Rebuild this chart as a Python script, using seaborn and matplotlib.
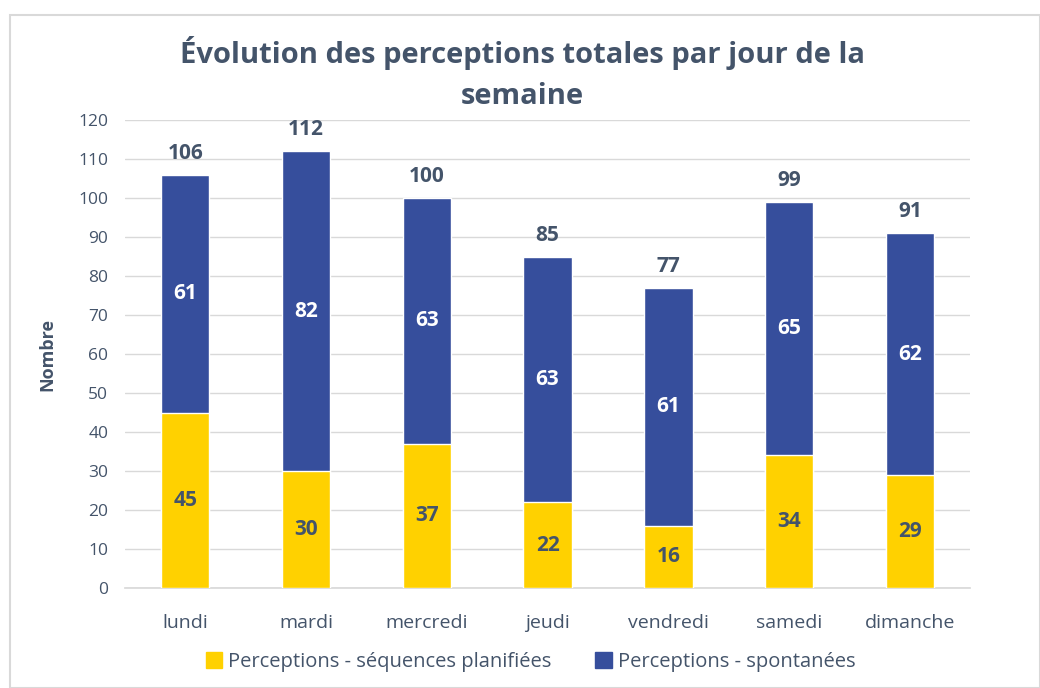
import matplotlib
matplotlib.use("Agg")
import matplotlib.pyplot as plt
import seaborn as sns
import pandas as pd
from matplotlib.patches import Rectangle, Patch

# data
jours = ["lundi", "mardi", "mercredi", "jeudi", "vendredi", "samedi", "dimanche"]
planifiees = [45, 30, 37, 22, 16, 34, 29]
spontanees = [61, 82, 63, 63, 61, 65, 62]
totaux = [p + s for p, s in zip(planifiees, spontanees)]

jaune = "#FFD100"
bleu = "#364E9C"
texte = "#44546A"

sns.set_theme(style="white")
plt.rcParams["font.family"] = ["Open Sans", "DejaVu Sans"]

df = pd.DataFrame({"jour": jours, "planifiees": planifiees, "total": totaux})

fig = plt.figure(figsize=(10.4, 6.88), dpi=100)
ax = fig.add_axes([0.120, 0.1453, 0.813, 0.6803])

# border of the chart area
fig.patches.append(Rectangle((10 / 1040, 0), 1 - 10 / 1040, 1 - 15 / 688,
                             transform=fig.transFigure, fill=False,
                             edgecolor="#D9D9D9", linewidth=1.5))

# total bar (blue) behind, yellow on top from 0
sns.barplot(data=df, x="jour", y="total", color=bleu, width=0.40,
            saturation=1, ax=ax, zorder=2)
sns.barplot(data=df, x="jour", y="planifiees", color=jaune, width=0.40,
            saturation=1, ax=ax, zorder=3)

for i in range(len(jours)):
    ax.text(i, planifiees[i] / 2, str(planifiees[i]), ha="center", va="center",
            fontsize=15, fontweight="bold", color=texte, zorder=4)
    ax.text(i, planifiees[i] + spontanees[i] / 2, str(spontanees[i]), ha="center",
            va="center", fontsize=15, fontweight="bold", color="white", zorder=4)
    ax.text(i, totaux[i] + 2.8, str(totaux[i]), ha="center", va="bottom",
            fontsize=15, fontweight="bold", color=texte, zorder=4)

ax.set_ylim(0, 120)
ax.set_yticks(range(0, 121, 10))
ax.set_xlim(-0.5, len(jours) - 0.5)
ax.yaxis.grid(True, color="#D9D9D9", linewidth=1)
ax.set_axisbelow(True)
for s in ["top", "right", "left"]:
    ax.spines[s].set_visible(False)
ax.spines["bottom"].set_color("#D9D9D9")
ax.tick_params(axis="both", length=0, colors=texte)
ax.tick_params(axis="x", pad=19, labelsize=14)
ax.tick_params(axis="y", pad=12, labelsize=12.5)
ax.set_xlabel("")
ax.set_ylabel("Nombre", fontsize=13, fontweight="bold", color=texte, labelpad=16)

fig.text(0.502, 0.893, "Évolution des perceptions totales par jour de la\nsemaine",
         ha="center", va="center", fontsize=21, fontweight="bold", color=texte,
         linespacing=1.55)

handles = [Patch(color=jaune, label="Perceptions - séquences planifiées"),
           Patch(color=bleu, label="Perceptions - spontanées")]
fig.legend(handles=handles, loc="center", bbox_to_anchor=(0.51, 0.038), ncol=2,
           frameon=False, fontsize=14.5, labelcolor=texte, handlelength=0.8,
           handleheight=0.8, handletextpad=0.3, columnspacing=2.2)

fig.savefig("out.png", dpi=100)
